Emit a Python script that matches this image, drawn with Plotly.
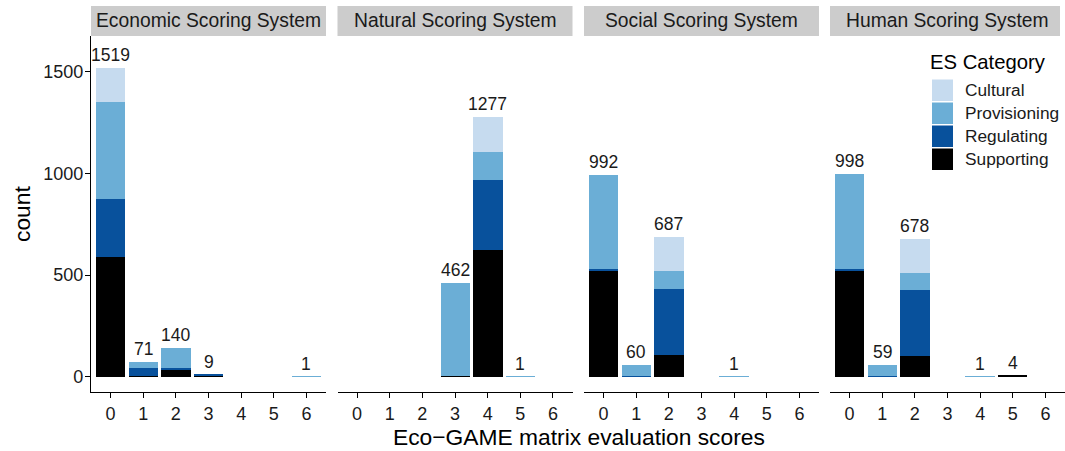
import plotly.graph_objects as go

# ---- data ---------------------------------------------------------------
scores = [0, 1, 2, 3, 4, 5, 6]
systems = ["Economic Scoring System", "Natural Scoring System",
           "Social Scoring System", "Human Scoring System"]
categories = ["Cultural", "Provisioning", "Regulating", "Supporting"]

# counts per ES category for scores 0..6, one list per scoring system
economic_supporting = [590, 4, 33, 4, 0, 0, 0]
economic_regulating = [285, 39, 10, 5, 0, 0, 0]
economic_provisioning = [475, 28, 97, 0, 0, 0, 1]
economic_cultural = [169, 0, 0, 0, 0, 0, 0]

natural_supporting = [0, 0, 0, 2, 623, 0, 0]
natural_regulating = [0, 0, 0, 0, 344, 0, 0]
natural_provisioning = [0, 0, 0, 460, 138, 1, 0]
natural_cultural = [0, 0, 0, 0, 172, 0, 0]

social_supporting = [520, 3, 107, 0, 0, 0, 0]
social_regulating = [10, 3, 325, 0, 0, 0, 0]
social_provisioning = [462, 54, 89, 0, 1, 0, 0]
social_cultural = [0, 0, 166, 0, 0, 0, 0]

human_supporting = [520, 3, 102, 0, 0, 4, 0]
human_regulating = [10, 3, 325, 0, 0, 0, 0]
human_provisioning = [468, 53, 84, 0, 1, 0, 0]
human_cultural = [0, 0, 167, 0, 0, 0, 0]

y_ticks = [0, 500, 1000, 1500]

# ---- styling ------------------------------------------------------------
W, H = 1065, 451
FONT = "Liberation Sans, Arial, sans-serif"
colors = {"Cultural": "#C6DBEF", "Provisioning": "#6BAED6",
          "Regulating": "#08519C", "Supporting": "#000000"}

panel_data = [
    {"Supporting": economic_supporting, "Regulating": economic_regulating,
     "Provisioning": economic_provisioning, "Cultural": economic_cultural},
    {"Supporting": natural_supporting, "Regulating": natural_regulating,
     "Provisioning": natural_provisioning, "Cultural": natural_cultural},
    {"Supporting": social_supporting, "Regulating": social_regulating,
     "Provisioning": social_provisioning, "Cultural": social_cultural},
    {"Supporting": human_supporting, "Regulating": human_regulating,
     "Provisioning": human_provisioning, "Cultural": human_cultural},
]


def px_x(x):
    return min(max(x / W, 0.0), 1.0)


def px_y(y):
    return min(max(1 - y / H, 0.0), 1.0)


panel_left = [91, 337.5, 584, 830]
panel_w = 235
plot_top, plot_bottom = 36, 392
strip_top = 6

fig = go.Figure()
layout = {}
annotations = []
shapes = []

stack_order = ["Supporting", "Regulating", "Provisioning", "Cultural"]

for i, (name, data) in enumerate(zip(systems, panel_data)):
    xa = "x" if i == 0 else f"x{i + 1}"
    key = "xaxis" if i == 0 else f"xaxis{i + 1}"
    for cat in stack_order:
        fig.add_trace(go.Bar(
            x=scores, y=data[cat], name=cat, xaxis=xa, yaxis="y",
            width=0.9, marker=dict(color=colors[cat], line=dict(width=0)),
            showlegend=False, hoverinfo="x+y+name",
        ))
    layout[key] = dict(
        domain=[px_x(panel_left[i]), px_x(panel_left[i] + panel_w)],
        anchor="y", range=[-0.6, 6.6], tickvals=scores,
        ticktext=[str(s) for s in scores],
        showline=True, linecolor="black", linewidth=1.3,
        ticks="outside", ticklen=5, tickwidth=1.3, tickcolor="black",
        showgrid=False, zeroline=False,
        tickfont=dict(family=FONT, size=18, color="#1a1a1a"),
        fixedrange=True,
    )
    # strip header
    shapes.append(dict(
        type="rect", xref="paper", yref="paper",
        x0=px_x(panel_left[i]), x1=px_x(min(panel_left[i] + panel_w, 1060)),
        y0=px_y(plot_top), y1=px_y(strip_top),
        fillcolor="#CCCCCC", line=dict(width=0), layer="below",
    ))
    annotations.append(dict(
        text=name, xref="paper", yref="paper",
        x=px_x(panel_left[i] + panel_w / 2), y=px_y((plot_top + strip_top) / 2),
        xanchor="center", yanchor="middle", showarrow=False,
        font=dict(family=FONT, size=19.3, color="#1a1a1a"),
    ))
    # totals above each stacked bar
    for j, s in enumerate(scores):
        total = sum(data[c][j] for c in categories)
        if total > 0:
            annotations.append(dict(
                text=str(total), x=s, y=total, xref=xa, yref="y",
                xanchor="center", yanchor="bottom", yshift=1,
                showarrow=False,
                font=dict(family=FONT, size=17.5, color="#1a1a1a"),
            ))

layout["yaxis"] = dict(
    domain=[px_y(plot_bottom), px_y(plot_top)], anchor="x",
    range=[-75, 1676], tickvals=y_ticks,
    showline=True, linecolor="black", linewidth=1.3,
    ticks="outside", ticklen=5, tickwidth=1.3, tickcolor="black",
    showgrid=False, zeroline=False, ticklabelstandoff=-2,
    tickfont=dict(family=FONT, size=18, color="#1a1a1a"),
    fixedrange=True,
)

# axis titles
annotations.append(dict(
    text="Eco\u2212GAME matrix evaluation scores", xref="paper", yref="paper",
    x=px_x(579), y=px_y(437), xanchor="center", yanchor="middle",
    showarrow=False, font=dict(family=FONT, size=22.8, color="black"),
))
annotations.append(dict(
    text="count", xref="paper", yref="paper", textangle=-90,
    x=px_x(22), y=px_y(214), xanchor="center", yanchor="middle",
    showarrow=False, font=dict(family=FONT, size=22.8, color="black"),
))

# legend
annotations.append(dict(
    text="ES Category", xref="paper", yref="paper",
    x=px_x(928), y=px_y(62), xanchor="left", yanchor="middle",
    showarrow=False, font=dict(family=FONT, size=20.3, color="black"),
))
key_top = 79.5
for k, cat in enumerate(categories):
    y0 = key_top + k * 23
    shapes.append(dict(
        type="rect", xref="paper", yref="paper",
        x0=px_x(932), x1=px_x(953), y0=px_y(y0 + 21.5), y1=px_y(y0),
        fillcolor=colors[cat], line=dict(width=0),
    ))
    annotations.append(dict(
        text=cat, xref="paper", yref="paper",
        x=px_x(963), y=px_y(y0 + 10.75), xanchor="left", yanchor="middle",
        showarrow=False, font=dict(family=FONT, size=17.3, color="#1a1a1a"),
    ))

fig.update_layout(
    width=W, height=H, margin=dict(l=0, r=0, t=0, b=0),
    paper_bgcolor="white", plot_bgcolor="white",
    barmode="stack", bargap=0, showlegend=False,
    annotations=annotations, shapes=shapes,
    font=dict(family=FONT), **layout,
)

fig.write_html("out.html")
